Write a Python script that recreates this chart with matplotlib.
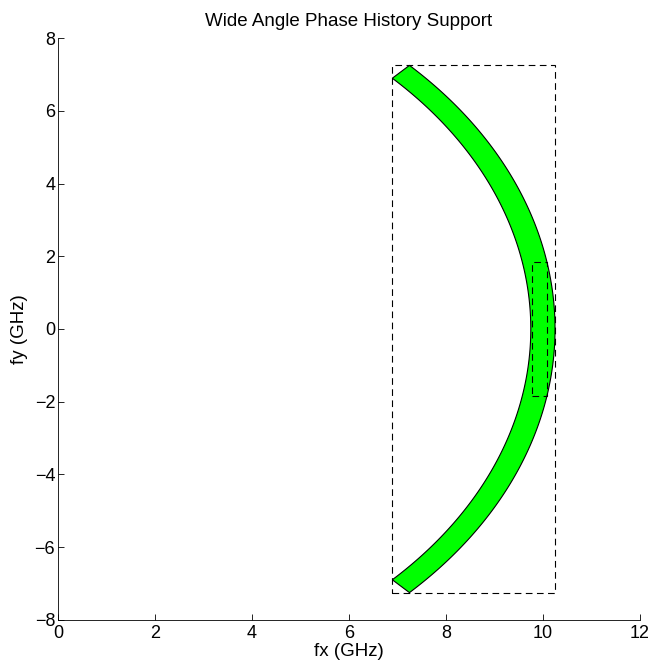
import numpy as np
import matplotlib
matplotlib.use("Agg")
import matplotlib.pyplot as plt
from matplotlib.patches import Polygon, Rectangle

plt.rcParams['font.family'] = ['Liberation Sans', 'DejaVu Sans']

# phase history support (GHz)
f_inner = 9.75
f_outer = 10.25
half_angle_deg = 45.0

# dashed boxes: [x0, x1, y0, y1]
wide_box = [6.89, 10.25, -7.25, 7.25]
narrow_box = [9.77, 10.08, -1.83, 1.83]

theta = np.radians(np.linspace(-half_angle_deg, half_angle_deg, 200))
outer_xy = np.column_stack([f_outer * np.cos(theta), f_outer * np.sin(theta)])
inner_xy = np.column_stack([f_inner * np.cos(theta[::-1]), f_inner * np.sin(theta[::-1])])
ring = np.vstack([outer_xy, inner_xy])

fig = plt.figure(figsize=(6.48, 6.67), dpi=100)
ax = fig.add_axes([0.0895, 0.0705, 0.898, 0.8725])

ax.add_patch(Polygon(ring, closed=True, facecolor='#00ff00', edgecolor='black', linewidth=0.8))

for b in (wide_box, narrow_box):
    ax.add_patch(Rectangle((b[0], b[2]), b[1] - b[0], b[3] - b[2], fill=False,
                           edgecolor='black', linestyle=(0, (6, 4)), linewidth=0.8))

ax.set_xlim(0, 12)
ax.set_ylim(-8, 8)
ax.set_xticks(np.arange(0, 13, 2))
ax.set_yticks(np.arange(-8, 9, 2))
ax.set_yticklabels(['\u22128', '\u22126', '\u22124', '\u22122', '0', '2', '4', '6', '8'])
ax.tick_params(direction='in', length=4, labelsize=13, width=0.6, pad=2)
ax.tick_params(axis='x', pad=3.5)
ax.spines['top'].set_visible(False)
ax.spines['right'].set_visible(False)
for s in ('left', 'bottom'):
    ax.spines[s].set_linewidth(0.6)

ax.set_xlabel('fx (GHz)', fontsize=13.5, labelpad=1)
ax.set_ylabel('fy (GHz)', fontsize=13.5, labelpad=5)
ax.set_title('Wide Angle Phase History Support', fontsize=13.5, pad=9)

fig.savefig('out.png', dpi=100)
